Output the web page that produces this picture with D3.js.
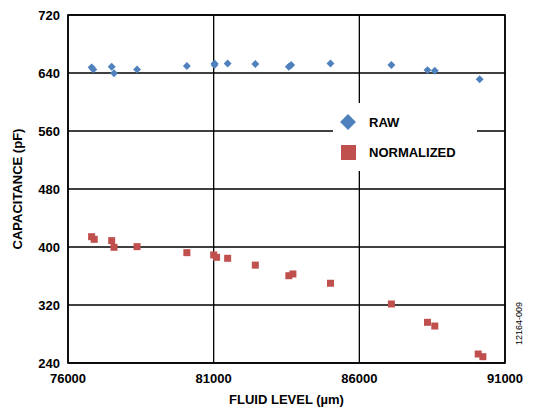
<!DOCTYPE html>
<html><head><meta charset="utf-8">
<script src="https://cdn.jsdelivr.net/npm/d3@7/dist/d3.min.js"></script>
<style>body{margin:0;background:#fff}text{font-family:"Liberation Sans",Arial,sans-serif}</style>
</head><body><svg id="c" width="535" height="416"></svg>
<script>
const rawX=[76810,76870,77500,77580,78370,80080,81030,81030,81480,82430,83660,83580,85010,87100,88340,88590,90130];
const rawY=[647.8,645,648.7,639.6,645,649.7,653,651,653,652.4,651,648.7,653,651,644,643,631.3];
const normX=[76810,76900,77500,77580,78370,80080,81000,81100,81480,82430,83580,83720,85010,87100,88340,88590,90080,90240];
const normY=[414.2,410.6,408.8,399.6,400.5,392.2,389,385.8,384.4,375,360.4,362.8,350,321.4,296.1,291,252.4,248.7];
const xTicks=[76000,81000,86000,91000];
const yTicks=[240,320,400,480,560,640,720];
const svg=d3.select("#c");
const L=68,R=505,T=15,B=363;
const x=d3.scaleLinear().domain([76000,91000]).range([L,R]);
const y=d3.scaleLinear().domain([240,720]).range([B,T]);
const g=svg.append("g");
g.selectAll(".gy").data(yTicks).join("line").attr("x1",L).attr("x2",R).attr("y1",d=>y(d)).attr("y2",d=>y(d)).attr("stroke","#000").attr("stroke-width",1.3);
g.selectAll(".gx").data(xTicks).join("line").attr("y1",T).attr("y2",B).attr("x1",d=>x(d)).attr("x2",d=>x(d)).attr("stroke","#000").attr("stroke-width",1.3);
g.append("rect").attr("x",L).attr("y",T).attr("width",R-L).attr("height",B-T).attr("fill","none").attr("stroke","#000").attr("stroke-width",1.6);
g.selectAll(".tx").data(xTicks).join("text").attr("x",d=>x(d)).attr("y",B+20).attr("text-anchor","middle").attr("font-size",13).attr("font-weight","bold").text(d=>d);
g.selectAll(".ty").data(yTicks).join("text").attr("x",L-8).attr("y",d=>y(d)+5).attr("text-anchor","end").attr("font-size",13).attr("font-weight","bold").text(d=>d);
svg.append("text").attr("x",(L+R)/2).attr("y",404).attr("text-anchor","middle").attr("font-size",13).attr("font-weight","bold").text("FLUID LEVEL (µm)");
svg.append("text").attr("transform",`translate(22,${(T+B)/2}) rotate(-90)`).attr("text-anchor","middle").attr("font-size",13).attr("font-weight","bold").text("CAPACITANCE (pF)");
svg.append("text").attr("transform","translate(522,345) rotate(-90)").attr("font-size",9).text("12164-009");
const diamond=d3.symbol().type(d3.symbolDiamond2).size(40);
svg.selectAll(".r").data(rawX).join("path").attr("d",diamond).attr("transform",(d,i)=>`translate(${x(d)},${y(rawY[i])})`).attr("fill","#4F81BD");
svg.selectAll(".n").data(normX).join("rect").attr("x",d=>x(d)-3.5).attr("y",(d,i)=>y(normY[i])-3.5).attr("width",7).attr("height",7).attr("fill","#C0504D");
// legend
svg.append("rect").attr("x",333).attr("y",103).attr("width",144).attr("height",68).attr("fill","#fff");
svg.append("path").attr("d",d3.symbol().type(d3.symbolDiamond2).size(160)).attr("transform","translate(348,122)").attr("fill","#4F81BD");
svg.append("rect").attr("x",341).attr("y",145).attr("width",15).attr("height",15).attr("fill","#C0504D");
svg.append("text").attr("x",369).attr("y",127).attr("font-size",13).attr("font-weight","bold").text("RAW");
svg.append("text").attr("x",369).attr("y",157).attr("font-size",13).attr("font-weight","bold").text("NORMALIZED");
</script></body></html>
